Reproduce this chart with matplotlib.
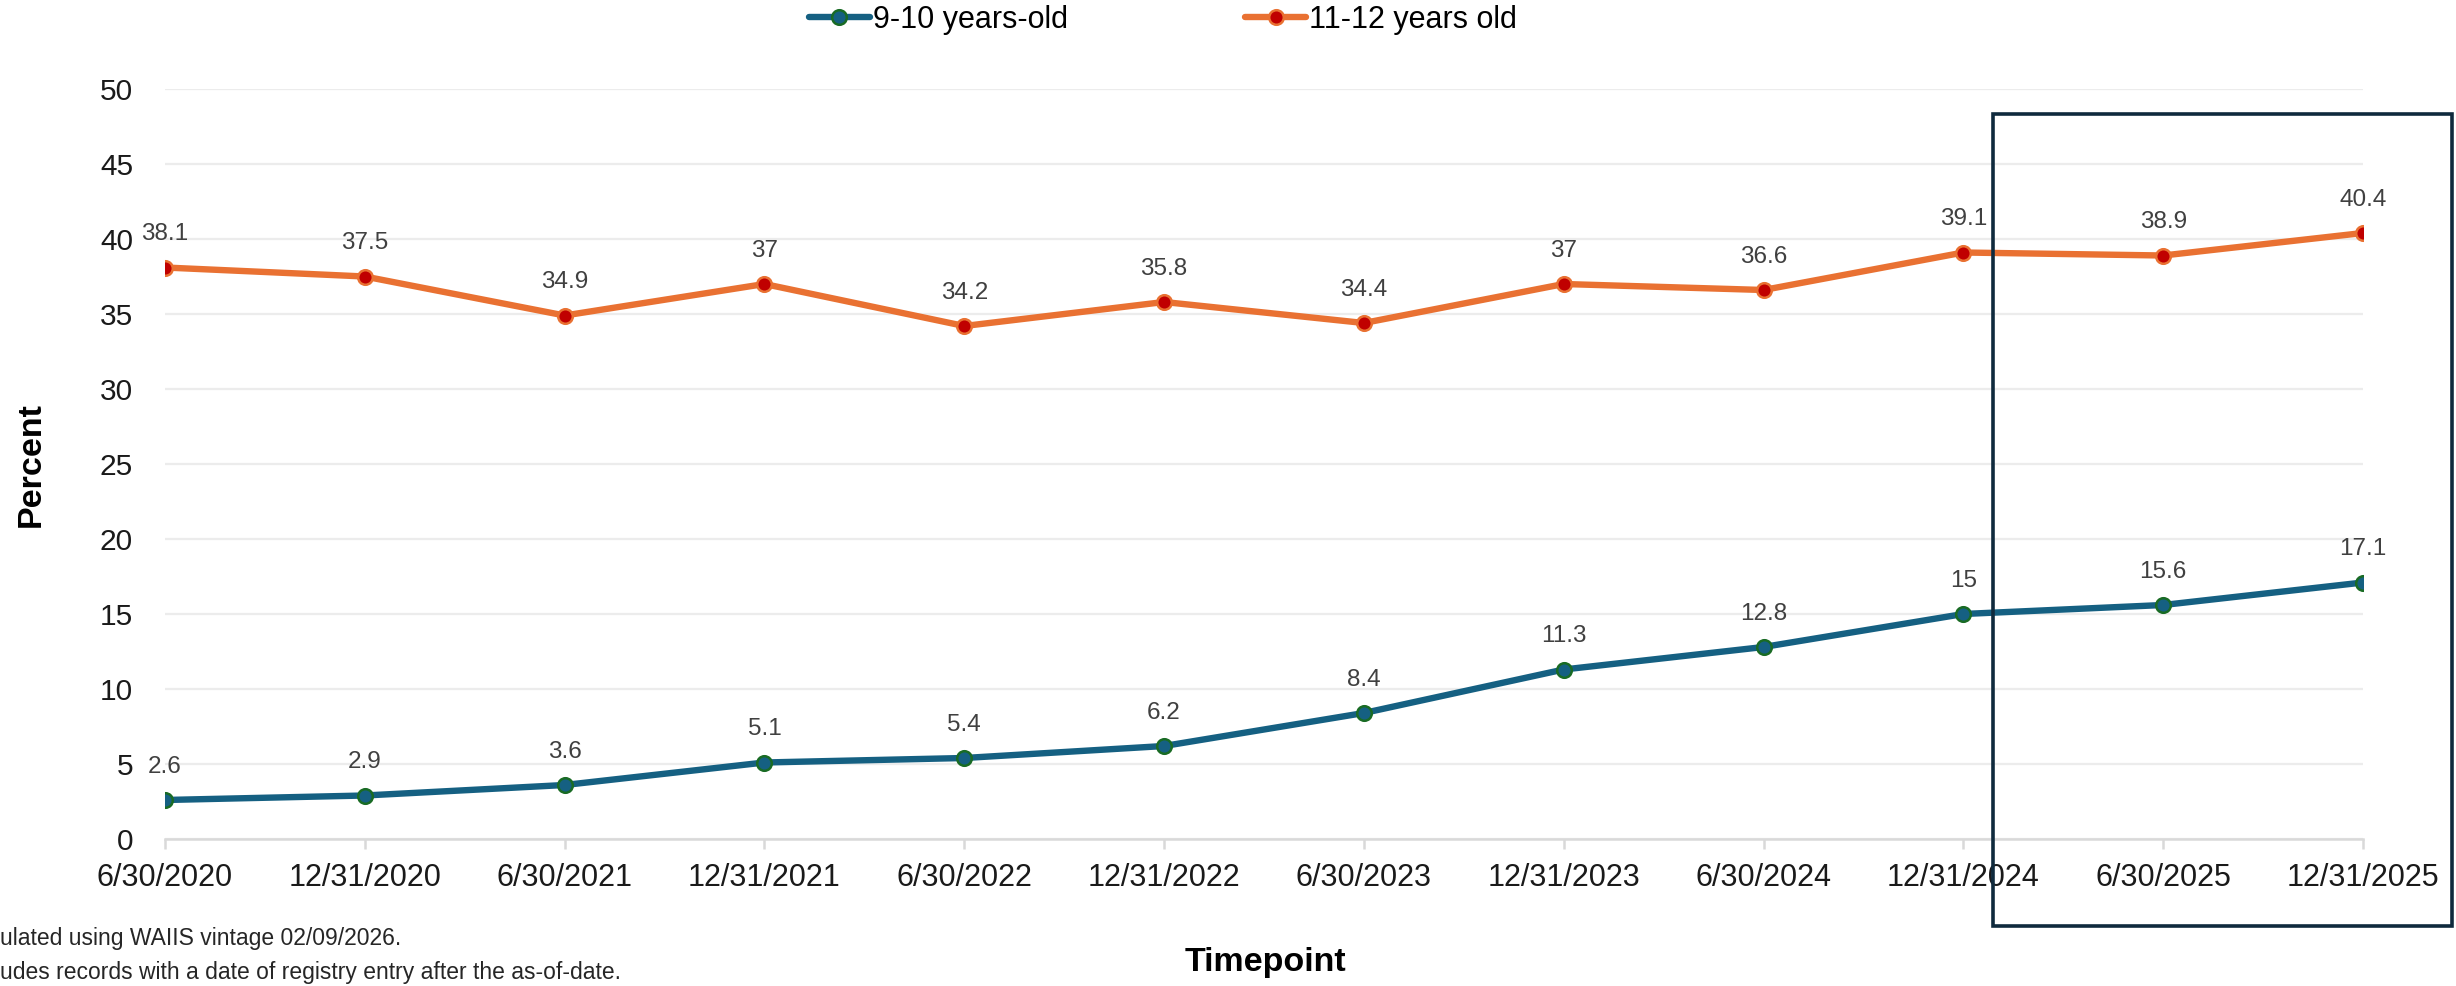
import matplotlib
matplotlib.use("Agg")
import matplotlib.pyplot as plt
from matplotlib import font_manager
from matplotlib.patches import Rectangle

# ---- data ----
timepoints = ["6/30/2020", "12/31/2020", "6/30/2021", "12/31/2021", "6/30/2022",
              "12/31/2022", "6/30/2023", "12/31/2023", "6/30/2024", "12/31/2024",
              "6/30/2025", "12/31/2025"]
age_9_10 = [2.6, 2.9, 3.6, 5.1, 5.4, 6.2, 8.4, 11.3, 12.8, 15, 15.6, 17.1]
age_11_12 = [38.1, 37.5, 34.9, 37, 34.2, 35.8, 34.4, 37, 36.6, 39.1, 38.9, 40.4]
series_names = ["9-10 years-old", "11-12 years old"]
y_ticks = [0, 5, 10, 15, 20, 25, 30, 35, 40, 45, 50]
footnotes = ["ulated using WAIIS vintage 02/09/2026.",
             "udes records with a date of registry entry after the as-of-date."]

avail = {f.name for f in font_manager.fontManager.ttflist}
base = "Liberation Sans" if "Liberation Sans" in avail else "DejaVu Sans"
plt.rcParams['font.family'] = [base, 'DejaVu Sans']

W, H = 2456, 986
fig = plt.figure(figsize=(W / 100, H / 100), dpi=100)
L, R, B, T = 165, 2363, 839, 89
ax = fig.add_axes([L / W, 1 - B / H, (R - L) / W, (B - T) / H])

x = list(range(len(timepoints)))
blue = "#156082"
orange = "#E97132"
l1, = ax.plot(x, age_9_10, color=blue, lw=4.6, marker="o", ms=10.5,
              mfc=blue, mec="#196B24", mew=1.8, solid_capstyle="round", zorder=3)
l2, = ax.plot(x, age_11_12, color=orange, lw=4.6, marker="o", ms=10.5,
              mfc="#C00000", mec=orange, mew=1.8, solid_capstyle="round", zorder=3)

for xs, ys in [(x, age_9_10), (x, age_11_12)]:
    for xi, yi in zip(xs, ys):
        ax.annotate(f"{yi:g}", (xi, yi), xytext=(0, 24), textcoords="offset points",
                    ha="center", va="center", fontsize=17.5, color="#404040", zorder=4)

ax.set_xlim(0, len(timepoints) - 1)
ax.set_ylim(0, 50)
ax.set_yticks(y_ticks)
ax.set_xticks(x)
ax.set_xticklabels(timepoints)
ax.tick_params(axis="y", length=0, pad=23, labelsize=21.5, labelcolor="#1a1a1a")
ax.tick_params(axis="x", length=7, width=1.8, color="#d9d9d9", pad=10, labelsize=22,
               labelcolor="#1a1a1a")
ax.grid(axis="y", color="#ececec", lw=1.6)
ax.set_axisbelow(True)
for s in ["top", "right", "left"]:
    ax.spines[s].set_visible(False)
ax.spines["bottom"].set_color("#d9d9d9")
ax.spines["bottom"].set_linewidth(1.8)
ax.spines["bottom"].set_zorder(2)

fig.text(31 / W, 1 - 465 / H, "Percent", rotation=90, ha="center", va="center",
         fontsize=24.5, fontweight="bold", color="#000000")
fig.text(1265 / W, 1 - 962 / H, "Timepoint", ha="center", va="center",
         fontsize=24.5, fontweight="bold", color="#000000")

for i, t in enumerate(footnotes):
    fig.text(0, 1 - (938 + 34 * i) / H, t, ha="left", va="center", fontsize=16.5,
             color="#262626")

fig.legend([l1, l2], series_names, loc="center", bbox_to_anchor=(1163 / W, 1 - 20 / H),
           ncol=2, frameon=False, handlelength=2.0, handletextpad=0.1, columnspacing=5.8,
           prop={"size": 22})

fig.add_artist(Rectangle((1993 / W, 1 - 926 / H), (2452 - 1993) / W, (926 - 114) / H,
                         transform=fig.transFigure, fill=False, edgecolor="#0F2A3D", lw=2.6))

fig.savefig("out.png", dpi=100)
